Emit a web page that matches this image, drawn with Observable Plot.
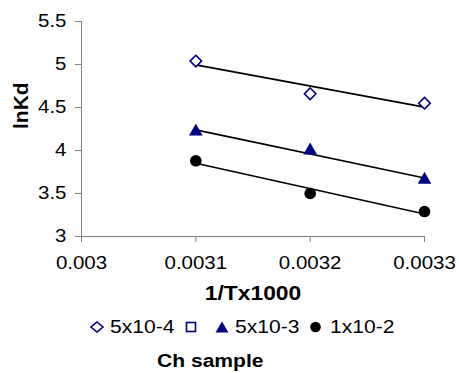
<!DOCTYPE html>
<html>
<head>
<meta charset="utf-8">
<script src="https://cdn.jsdelivr.net/npm/d3@7"></script>
<script src="https://cdn.jsdelivr.net/npm/@observablehq/plot@0.6"></script>
<style>
  html, body { margin: 0; padding: 0; background: #fff; }
  body { width: 459px; height: 373px; position: relative; overflow: hidden; font-family: "Liberation Sans", Arial, sans-serif; }
  #chart { position: absolute; left: 0; top: 0; }
  .lg { position: absolute; top: 317px; height: 20px; line-height: 20px; font-size: 18px; color: #000; white-space: nowrap; }
  .lg.t { transform: scaleX(1.17); transform-origin: 0 50%; }
  .lg svg { display: block; margin-top: 4px; }
  #caption { position: absolute; left: 157px; top: 351px; font-size: 18px; font-weight: bold; color: #000; transform: scaleX(1.17); transform-origin: 0 50%; white-space: nowrap; }
</style>
</head>
<body>
<div id="chart"></div>
<div id="legend"></div>
<div id="caption">Ch sample</div>
<script>
const xValues = [0.0031, 0.0032, 0.0033];
const seriesNames = ["5x10-4", "", "5x10-3", "1x10-2"];
const series1 = [5.04, 4.66, 4.55];   // 5x10-4
const series2 = [];                   // (empty series)
const series3 = [4.22, 4.00, 3.66];   // 5x10-3
const series4 = [3.88, 3.50, 3.29];   // 1x10-2
const xTicks = [0.003, 0.0031, 0.0032, 0.0033];
const yTicks = [3, 3.5, 4, 4.5, 5, 5.5];

const navy = "#000080";
const rows = (vals, name) => vals.map((v, i) => ({x: xValues[i], y: v, s: name}));
const d1 = rows(series1, seriesNames[0]);
const d3s = rows(series3, seriesNames[2]);
const d4 = rows(series4, seriesNames[3]);

const font = "Liberation Sans, Arial, sans-serif";
const axisColor = "#808080";

const chart = Plot.plot({
  width: 459,
  height: 310,
  marginTop: 21,
  marginBottom: 74,
  marginLeft: 81,
  marginRight: 35,
  style: {fontFamily: font, fontSize: "17.5px", color: "#000", background: "#fff"},
  x: {domain: [0.003, 0.0033]},
  y: {domain: [3, 5.5]},
  marks: [
    Plot.ruleX([0.003], {stroke: axisColor, strokeWidth: 1}),
    Plot.ruleY([3], {stroke: axisColor, strokeWidth: 1}),
    Plot.axisX(xTicks, {tickSize: 6, tickPadding: 14, stroke: axisColor, fill: "#000", tickFormat: d => String(+d.toFixed(4)), label: null}),
    Plot.axisY(yTicks, {tickSize: 6, tickPadding: 9, stroke: axisColor, fill: "#000", tickFormat: d => String(d), label: null}),
    Plot.text(["lnKd"], {frameAnchor: "left", rotate: -90, dx: -60, fontWeight: "bold", fontSize: 21, fill: "#000"}),
    Plot.text(["1/Tx1000"], {frameAnchor: "bottom", lineAnchor: "middle", dy: 57, fontWeight: "bold", fontSize: 19.5, fill: "#000"}),
    Plot.linearRegressionY(d1, {x: "x", y: "y", stroke: "#000", strokeWidth: 1.7, ci: 0}),
    Plot.linearRegressionY(d3s, {x: "x", y: "y", stroke: "#000", strokeWidth: 1.7, ci: 0}),
    Plot.linearRegressionY(d4, {x: "x", y: "y", stroke: "#000", strokeWidth: 1.7, ci: 0}),
    Plot.dot(d1, {x: "x", y: "y", symbol: "diamond2", r: 5.2, stroke: navy, strokeWidth: 1.6, fill: "#fff"}),
    Plot.dot(d3s, {x: "x", y: "y", symbol: "triangle", r: 4.8, fill: navy, stroke: navy, strokeWidth: 0.5}),
    Plot.dot(d4, {x: "x", y: "y", symbol: "circle", r: 5.8, fill: "#000", stroke: "none"})
  ]
});
document.getElementById("chart").appendChild(chart);

// Horizontal stretch of text, as in the reference picture
chart.querySelectorAll("text").forEach(t => {
  if (t.textContent === "lnKd") return;
  const tr = t.getAttribute("transform");
  const xa = t.getAttribute("x");
  if (xa !== null && !isNaN(+xa)) {
    t.removeAttribute("x");
    t.setAttribute("transform", (tr ? tr + " " : "") + `translate(${xa},0) scale(1.17,1)`);
  } else if (tr) {
    t.setAttribute("transform", tr + " scale(1.17,1)");
  } else {
    t.setAttribute("transform", "scale(1.17,1)");
  }
});

// Legend
const sym = {
  diamond: '<svg width="14" height="12"><path d="M7,1 L13,6 L7,11 L1,6 Z" fill="#fff" stroke="' + navy + '" stroke-width="1.6"/></svg>',
  square: '<svg width="12" height="12"><rect x="1.5" y="1.5" width="9" height="9" fill="#fff" stroke="' + navy + '" stroke-width="1.6"/></svg>',
  triangle: '<svg width="14" height="12"><path d="M7,0.5 L13.5,11.5 L0.5,11.5 Z" fill="' + navy + '"/></svg>',
  circle: '<svg width="13" height="12"><circle cx="6.5" cy="6" r="5.3" fill="#000"/></svg>'
};
const legendItems = [
  {k: "diamond", sx: 90, tx: 110},
  {k: "square", sx: 185, tx: null},
  {k: "triangle", sx: 215, tx: 235},
  {k: "circle", sx: 309, tx: 330}
];
const legend = document.getElementById("legend");
legendItems.forEach((it, i) => {
  const s = document.createElement("div");
  s.className = "lg";
  s.style.left = it.sx + "px";
  s.innerHTML = sym[it.k];
  legend.appendChild(s);
  if (it.tx !== null && seriesNames[i]) {
    const t = document.createElement("div");
    t.className = "lg t";
    t.style.left = it.tx + "px";
    t.textContent = seriesNames[i];
    legend.appendChild(t);
  }
});
</script>
</body>
</html>
